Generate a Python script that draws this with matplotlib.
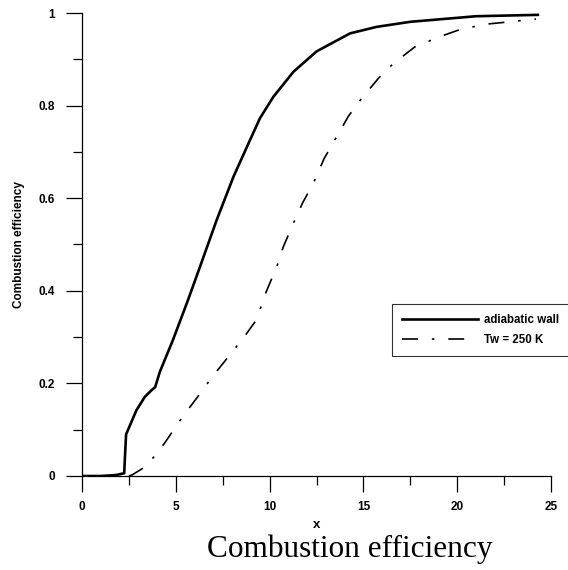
import matplotlib
matplotlib.use("Agg")
from matplotlib import pyplot as plt
from matplotlib.ticker import MultipleLocator

# adiabatic wall (solid)
x_adiabatic = [0, 1.0, 1.8, 2.25, 2.3, 2.35, 2.5, 2.9, 3.35, 3.7, 3.9, 4.15, 4.85,
               5.65, 6.29, 7.18, 8.07, 8.96, 9.49, 10.2, 11.27, 12.5, 14.29, 15.7,
               17.5, 21.0, 24.3]
y_adiabatic = [0, 0, 0.002, 0.006, 0.05, 0.09, 0.104, 0.142, 0.171, 0.185, 0.192,
               0.225, 0.294, 0.38, 0.452, 0.553, 0.646, 0.726, 0.773, 0.819, 0.873,
               0.917, 0.956, 0.970, 0.981, 0.993, 0.996]

# Tw = 250 K (dash-dot)
x_cold = [2.5, 2.7, 3.45, 3.98, 4.42, 5.31, 6.11, 6.96, 7.89, 8.69, 9.31, 9.8, 10.38,
          10.73, 11.27, 11.76, 12.33, 12.9, 13.49, 14.2, 14.8, 15.8, 16.6, 17.75,
          19.08, 20.2, 21.57, 22.8, 24.2]
y_cold = [0, 0.003, 0.022, 0.049, 0.072, 0.125, 0.168, 0.215, 0.262, 0.303, 0.338,
          0.396, 0.452, 0.495, 0.546, 0.590, 0.632, 0.685, 0.727, 0.777, 0.81, 0.859,
          0.891, 0.927, 0.949, 0.965, 0.976, 0.981, 0.987]

labels = ["adiabatic wall", "Tw = 250 K"]

plt.rcParams["font.family"] = "Liberation Sans"
plt.rcParams["font.weight"] = "bold"
plt.rcParams["axes.labelweight"] = "bold"
plt.rcParams["lines.scale_dashes"] = False

fig = plt.figure(figsize=(5.68, 5.70), dpi=100)
ax = fig.add_axes([82 / 568, 94 / 570, (551 - 82) / 568, (476 - 13) / 570])

ax.plot(x_adiabatic, y_adiabatic, color="black", lw=1.9, label=labels[0])
ax.plot(x_cold, y_cold, color="black", lw=1.2, linestyle=(0, (11.5, 10, 1.8, 10)),
        label=labels[1])

ax.set_xlim(0, 25)
ax.set_ylim(0, 1)
ax.spines["top"].set_visible(False)
ax.spines["right"].set_visible(False)
for s in ["left", "bottom"]:
    ax.spines[s].set_linewidth(0.9)

ax.xaxis.set_major_locator(MultipleLocator(5))
ax.xaxis.set_minor_locator(MultipleLocator(2.5))
ax.yaxis.set_minor_locator(MultipleLocator(0.1))
ax.set_yticks([0, 0.2, 0.4, 0.6, 0.8, 1.0])
ax.set_yticklabels(["0", "0.2", "0.4", "0.6", "0.8", "1"])
ax.tick_params(axis="both", which="major", direction="out", length=11.2, width=0.9,
               labelsize=8.5)
ax.tick_params(axis="both", which="minor", direction="out", length=6.8, width=0.9)
ax.tick_params(axis="y", which="major", pad=8.5)
ax.tick_params(axis="x", which="major", pad=7)

ax.set_xlabel("x", fontsize=9.5, labelpad=4)
ax.set_ylabel("Combustion efficiency", fontsize=8.5)
ax.yaxis.set_label_coords((25 - 82) / 469, 0.5)

leg = ax.legend(loc="upper left", bbox_to_anchor=(392 / 568, 1 - 304 / 570),
                bbox_transform=fig.transFigure, fontsize=8.3, frameon=True,
                fancybox=False, handlelength=6.6, handletextpad=0.5,
                borderaxespad=0, borderpad=0.9, labelspacing=0.65)
leg.get_frame().set_edgecolor("black")
leg.get_frame().set_linewidth(0.8)

fig.text(350 / 568, 1 - 549 / 570, "Combustion efficiency", family="Liberation Serif",
         fontweight="normal", fontsize=22.5, ha="center", va="center")

fig.savefig("out.png", dpi=100)
